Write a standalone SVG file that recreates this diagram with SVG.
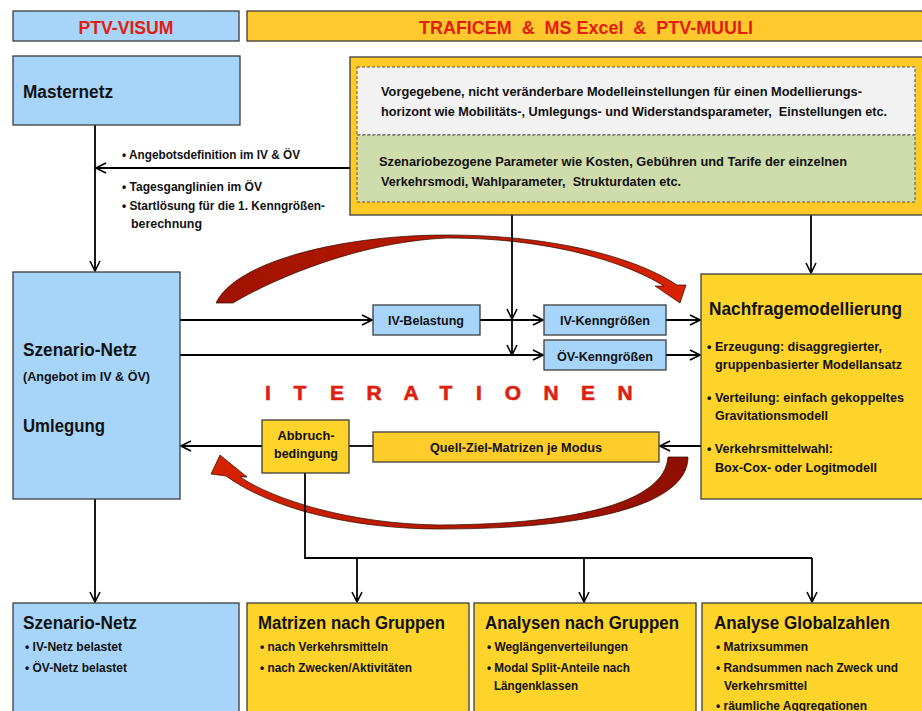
<svg xmlns="http://www.w3.org/2000/svg" width="922" height="711" viewBox="0 0 922 711">
<style>
.t{font-family:"Liberation Sans",Arial,sans-serif;font-weight:bold;fill:#111}
.red{fill:#E0200F}
.h{font-size:18px}
.hh{font-size:19px}
.m{font-size:13px}
.s{font-size:12px}
.blue{fill:#A7D5FA;stroke:#3C3C3C;stroke-width:1.3}
.yel{fill:#FFD42A;stroke:#3C3C3C;stroke-width:1.3}
.conn{fill:none;stroke:#000;stroke-width:1.8}
.dash{stroke:#555;stroke-width:1;stroke-dasharray:3 2}
</style>
<defs>
<marker id="ah" viewBox="0 0 12 12" refX="11" refY="6" markerWidth="12" markerHeight="12" markerUnits="userSpaceOnUse" orient="auto">
<path d="M1,1 L11,6 L1,11" fill="none" stroke="#000" stroke-width="1.6"/>
</marker>
<linearGradient id="gTop" x1="0" y1="0" x2="1" y2="0">
<stop offset="0" stop-color="#9E1200"/><stop offset="1" stop-color="#D82200"/>
</linearGradient>
<linearGradient id="gBot" x1="1" y1="0" x2="0" y2="0">
<stop offset="0" stop-color="#8E0E00"/><stop offset="1" stop-color="#D82200"/>
</linearGradient>
</defs>
<rect width="922" height="711" fill="#fff"/>

<g id="hdr-visum">
<rect class="blue" x="13" y="11" width="226" height="30"/>
<text class="t hh red" x="126" y="34" text-anchor="middle" textLength="95" lengthAdjust="spacingAndGlyphs">PTV-VISUM</text>
</g>
<g id="hdr-traficem">
<rect x="247" y="11" width="690" height="30" fill="#FFC82C" stroke="#3C3C3C" stroke-width="1.3"/>
<text class="t hh red" x="586" y="34" text-anchor="middle" textLength="334" lengthAdjust="spacingAndGlyphs">TRAFICEM &#160;&amp;&#160; MS Excel &#160;&amp;&#160; PTV-MUULI</text>
</g>

<g id="iteration-arrows">
<path d="M216,303 C235,262 340,235 447,235 C560,235 640,260 677,285 L686,285 L680,303 L655,286 L664,286 C625,262 550,238 447,238 C355,242 268,282 233,303 Z" fill="url(#gTop)" stroke="#2a0800" stroke-width="0.7"/>
<path d="M688,457 C688,505 590,529 440,529 C350,529 270,508 226,476 L211,474 L220,455 L247,477 L240,477 C275,500 350,524 440,525 C585,524 665,500 668,457 Z" fill="url(#gBot)" stroke="#2a0800" stroke-width="0.7"/>
<text class="t red" font-size="21" stroke="#E0200F" stroke-width="0.6" y="400" x="268 300 337 374 411 446 479 513 551 588 625" text-anchor="middle">ITERATIONEN</text>
</g>

<g id="connectors">
<path class="conn" d="M95,125 V271" marker-end="url(#ah)"/>
<path class="conn" d="M350,168 H96" marker-end="url(#ah)"/>
<path class="conn" d="M512,215 V319" marker-end="url(#ah)"/>
<path class="conn" d="M512,319 V355" marker-end="url(#ah)"/>
<path class="conn" d="M811,215 V273" marker-end="url(#ah)"/>
<path class="conn" d="M180,320 H372" marker-end="url(#ah)"/>
<path class="conn" d="M480,320 H543" marker-end="url(#ah)"/>
<path class="conn" d="M180,355 H543" marker-end="url(#ah)"/>
<path class="conn" d="M666,320 H700" marker-end="url(#ah)"/>
<path class="conn" d="M666,355 H700" marker-end="url(#ah)"/>
<path class="conn" d="M701,446 H660" marker-end="url(#ah)"/>
<path class="conn" d="M373,446 H349"/>
<path class="conn" d="M262,446 H181" marker-end="url(#ah)"/>
<path class="conn" d="M305,473 V558 H812"/>
<path class="conn" d="M357,558 V602" marker-end="url(#ah)"/>
<path class="conn" d="M584,558 V602" marker-end="url(#ah)"/>
<path class="conn" d="M812,558 V602" marker-end="url(#ah)"/>
<path class="conn" d="M95,499 V602" marker-end="url(#ah)"/>
<text class="t s" x="122" y="159" textLength="178" lengthAdjust="spacingAndGlyphs">• Angebotsdefinition im IV &amp; ÖV</text>
<text class="t s" x="122" y="191" textLength="140" lengthAdjust="spacingAndGlyphs">• Tagesganglinien im ÖV</text>
<text class="t s" x="122" y="210" textLength="203" lengthAdjust="spacingAndGlyphs">• Startlösung für die 1. Kenngrößen-</text>
<text class="t s" x="131" y="228" textLength="71" lengthAdjust="spacingAndGlyphs">berechnung</text>
</g>

<g id="masternetz">
<rect class="blue" x="13" y="56" width="227" height="69"/>
<text class="t h" x="23" y="98" textLength="90" lengthAdjust="spacingAndGlyphs">Masternetz</text>
</g>

<g id="parameter">
<rect x="350" y="57" width="590" height="158" fill="#FFC926" stroke="#3C3C3C" stroke-width="1.3"/>
<rect class="dash" x="357" y="67" width="558" height="68" fill="#F2F2F2"/>
<rect class="dash" x="357" y="135" width="558" height="67" fill="#CFDCAB"/>
<text class="t s" x="381" y="96" textLength="481" lengthAdjust="spacingAndGlyphs">Vorgegebene, nicht veränderbare  Modelleinstellungen für einen Modellierungs-</text>
<text class="t s" x="381" y="116" textLength="506" lengthAdjust="spacingAndGlyphs">horizont wie Mobilitäts-, Umlegungs- und Widerstandsparameter, &#160;Einstellungen etc.</text>
<text class="t s" x="379" y="166" textLength="468" lengthAdjust="spacingAndGlyphs">Szenariobezogene Parameter wie Kosten, Gebühren und Tarife der einzelnen</text>
<text class="t s" x="381" y="186" textLength="300" lengthAdjust="spacingAndGlyphs">Verkehrsmodi, Wahlparameter, &#160;Strukturdaten etc.</text>
</g>

<g id="szenario-netz">
<rect class="blue" x="13" y="272" width="167" height="227"/>
<text class="t h" x="23" y="356" textLength="114" lengthAdjust="spacingAndGlyphs">Szenario-Netz</text>
<text class="t m" x="23" y="381" textLength="127" lengthAdjust="spacingAndGlyphs">(Angebot im IV &amp; ÖV)</text>
<text class="t h" x="23" y="432" textLength="82" lengthAdjust="spacingAndGlyphs">Umlegung</text>
</g>

<g id="iv-belastung">
<rect class="blue" x="373" y="305" width="107" height="30"/>
<text class="t m" x="426" y="325" text-anchor="middle" textLength="76" lengthAdjust="spacingAndGlyphs">IV-Belastung</text>
</g>
<g id="iv-kenngroessen">
<rect class="blue" x="544" y="305" width="122" height="30"/>
<text class="t m" x="605" y="325" text-anchor="middle" textLength="90" lengthAdjust="spacingAndGlyphs">IV-Kenngrößen</text>
</g>
<g id="oev-kenngroessen">
<rect class="blue" x="544" y="340" width="122" height="30"/>
<text class="t m" x="605" y="361" text-anchor="middle" textLength="96" lengthAdjust="spacingAndGlyphs">ÖV-Kenngrößen</text>
</g>

<g id="nachfragemodellierung">
<rect class="yel" x="701" y="274" width="240" height="225"/>
<text class="t hh" x="709" y="315" textLength="193" lengthAdjust="spacingAndGlyphs">Nachfragemodellierung</text>
<text class="t m" x="707" y="351" textLength="175" lengthAdjust="spacingAndGlyphs">• Erzeugung: disaggregierter,</text>
<text class="t m" x="715" y="369" textLength="187" lengthAdjust="spacingAndGlyphs">gruppenbasierter Modellansatz</text>
<text class="t m" x="707" y="402" textLength="197" lengthAdjust="spacingAndGlyphs">• Verteilung: einfach gekoppeltes</text>
<text class="t m" x="715" y="420" textLength="113" lengthAdjust="spacingAndGlyphs">Gravitationsmodell</text>
<text class="t m" x="707" y="453" textLength="126" lengthAdjust="spacingAndGlyphs">• Verkehrsmittelwahl:</text>
<text class="t m" x="715" y="472" textLength="162" lengthAdjust="spacingAndGlyphs">Box-Cox- oder Logitmodell</text>
</g>

<g id="abbruchbedingung">
<rect class="yel" x="262" y="420" width="87" height="53"/>
<text class="t m" x="306" y="440" text-anchor="middle" textLength="57" lengthAdjust="spacingAndGlyphs">Abbruch-</text>
<text class="t m" x="306" y="458" text-anchor="middle" textLength="64" lengthAdjust="spacingAndGlyphs">bedingung</text>
</g>

<g id="quell-ziel-matrizen">
<rect x="373" y="432" width="286" height="30" fill="#FFCC29" stroke="#3C3C3C" stroke-width="1.3"/>
<text class="t m" x="516" y="452" text-anchor="middle" textLength="172" lengthAdjust="spacingAndGlyphs">Quell-Ziel-Matrizen je Modus</text>
</g>

<g id="szenario-netz-out">
<rect class="blue" x="13" y="603" width="226" height="120"/>
<text class="t h" x="23" y="629" textLength="114" lengthAdjust="spacingAndGlyphs">Szenario-Netz</text>
<text class="t m" x="25" y="651" textLength="97" lengthAdjust="spacingAndGlyphs">• IV-Netz belastet</text>
<text class="t m" x="25" y="672" textLength="102" lengthAdjust="spacingAndGlyphs">• ÖV-Netz belastet</text>
</g>

<g id="matrizen-gruppen">
<rect class="yel" x="247" y="603" width="222" height="120"/>
<text class="t h" x="258" y="629" textLength="187" lengthAdjust="spacingAndGlyphs">Matrizen nach Gruppen</text>
<text class="t m" x="260" y="651" textLength="128" lengthAdjust="spacingAndGlyphs">• nach Verkehrsmitteln</text>
<text class="t m" x="260" y="672" textLength="152" lengthAdjust="spacingAndGlyphs">• nach Zwecken/Aktivitäten</text>
</g>

<g id="analysen-gruppen">
<rect class="yel" x="474" y="603" width="222" height="120"/>
<text class="t h" x="485" y="629" textLength="194" lengthAdjust="spacingAndGlyphs">Analysen nach Gruppen</text>
<text class="t m" x="487" y="651" textLength="141" lengthAdjust="spacingAndGlyphs">• Weglängenverteilungen</text>
<text class="t m" x="487" y="672" textLength="143" lengthAdjust="spacingAndGlyphs">• Modal Split-Anteile nach</text>
<text class="t m" x="494" y="690" textLength="84" lengthAdjust="spacingAndGlyphs">Längenklassen</text>
</g>

<g id="analyse-globalzahlen">
<rect class="yel" x="702" y="603" width="240" height="120"/>
<text class="t h" x="714" y="629" textLength="176" lengthAdjust="spacingAndGlyphs">Analyse Globalzahlen</text>
<text class="t m" x="716" y="651" textLength="92" lengthAdjust="spacingAndGlyphs">• Matrixsummen</text>
<text class="t m" x="716" y="672" textLength="182" lengthAdjust="spacingAndGlyphs">• Randsummen nach Zweck und</text>
<text class="t m" x="724" y="690" textLength="83" lengthAdjust="spacingAndGlyphs">Verkehrsmittel</text>
<text class="t m" x="716" y="710" textLength="151" lengthAdjust="spacingAndGlyphs">• räumliche Aggregationen</text>
</g>
</svg>
